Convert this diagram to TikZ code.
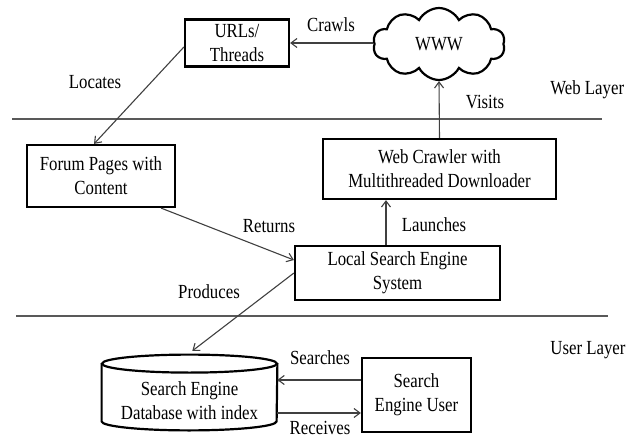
\documentclass[tikz,border=0pt]{standalone}
\usepackage{fontspec}
\setmainfont[FakeStretch=0.84]{Liberation Serif}
\usetikzlibrary{positioning,arrows.meta,shapes.symbols,calc}

\begin{document}
\begin{tikzpicture}[x=0.5pt,y=-0.5pt,
  box/.style={draw,line width=1.1pt,align=center,inner sep=2pt},
  lbl/.style={inner sep=1pt},
  flow/.style={-{Straight Barb[length=3pt,width=4.5pt]},draw=black!75,line width=0.55pt},
  layer/.style={draw=black!65,line width=0.8pt}]
\clip (0,0) rectangle (627,439);
% layers
\draw[layer] (12,119) -- (602,119);
\draw[layer] (16,316) -- (608,316);
\node[lbl,anchor=west] (weblayer) at (548,90) {Web Layer};
\node[lbl,anchor=west] (userlayer) at (548,350) {User Layer};
% web layer nodes
\node[box,minimum width=52pt,minimum height=23.5pt] (urls) at (237,43) {URLs/\\Threads};
\node[draw,line width=1.1pt,shape=cloud,cloud puffs=10,cloud puff arc=125,aspect=1.9,minimum width=66pt,minimum height=36pt,inner sep=0pt] (www) at (439,44) {WWW};
\node[box,minimum width=74pt,minimum height=31pt] (forum) at (101,176) {Forum Pages with\\Content};
\node[box,minimum width=116.5pt,minimum height=30pt] (crawler) at (439.5,169) {Web Crawler with\\Multithreaded Downloader};
\node[box,minimum width=102.5pt,minimum height=27pt] (local) at (397.5,273) {Local Search Engine\\System};
% user layer nodes
\node[minimum width=87.5pt,minimum height=37.5pt,inner sep=0pt,
  label={[align=center,yshift=-4.25pt]center:Search Engine\\Database with index}] (db) at (189.5,392.5) {};
\draw[line width=1.1pt] ([yshift=-4.5pt]db.north) ellipse [x radius=43.75pt,y radius=4.5pt];
\draw[line width=1.1pt] ([yshift=-4.5pt]db.north west) -- ([yshift=4.5pt]db.south west)
  arc[start angle=180,end angle=360,x radius=43.75pt,y radius=4.5pt] -- ([yshift=-4.5pt]db.north east);
\node[box,minimum width=54.5pt,minimum height=37pt] (user) at (416.5,395) {Search\\Engine User};
% connectors
\draw[flow] (www.west |- urls.east) -- (urls.east);
\node[lbl] (crawls) at (331,25) {Crawls};
\draw[flow] ([yshift=-2pt]urls.west) -- ([xshift=-3.5pt]forum.north);
\node[lbl] (locates) at (95,82) {Locates};
\draw[flow] (crawler.north) -- (www.south);
\node[lbl] (visits) at (485,102) {Visits};
\draw[flow] ([xshift=-5.75pt]local.north) -- ([xshift=-5.75pt]local.north |- crawler.south);
\node[lbl] (launches) at (434,225) {Launches};
\draw[flow] ([xshift=-7.5pt]forum.south east) -- ([yshift=6.5pt]local.west);
\node[lbl] (returns) at (269,226) {Returns};
\draw[flow,shorten >=3pt] (local.west) -- ($(db.north)+(-1pt,0)$);
\node[lbl] (produces) at (209,292) {Produces};
\draw[flow] ([yshift=7.5pt]user.west) -- ([yshift=7.5pt]user.west -| db.east);
\node[lbl] (searches) at (320,358) {Searches};
\draw[flow] ([yshift=-9pt]user.west -| db.east) -- ([yshift=-9pt]user.west);
\node[lbl] (receives) at (320,428) {Receives};
\end{tikzpicture}
\end{document}
